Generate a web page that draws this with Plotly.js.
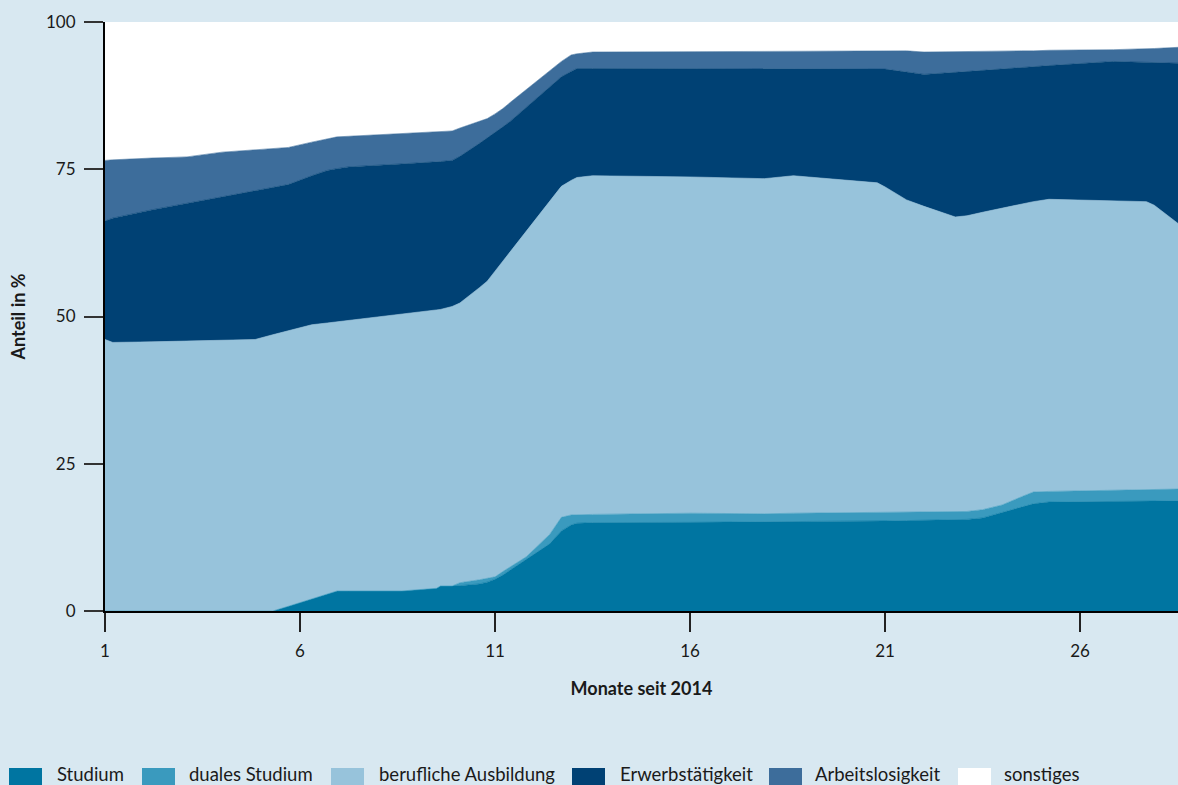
<!DOCTYPE html>
<html>
<head>
<meta charset="utf-8">
<script src="https://cdn.plot.ly/plotly-3.0.1.min.js"></script>
<style>
  html, body { margin: 0; padding: 0; background: #d8e8f1; }
  #chart { width: 1178px; height: 785px; }
</style>
</head>
<body>
<div id="chart"></div>
<script>
// Monate seit 2014 (x positions of the curve vertices)
const monate = [1, 1.2, 2.2, 3.1, 4.0, 4.85, 5.3, 5.7, 6.3, 6.7,
  6.95, 7.25, 8.6, 9.5, 9.6, 9.9, 10.1, 10.6, 10.8, 11.0,
  11.2, 11.4, 11.8, 12.4, 12.7, 12.95, 13.1, 13.5, 16.0, 17.9,
  18.65, 20.8, 21.0, 21.55, 22.0, 22.8, 23.1, 23.5, 24.0, 24.5,
  24.8, 25.2, 26.85, 27.7, 27.9, 28.51];

// Anteile in %
const studium = [0, 0, 0, 0, 0, 0, 0, 0.8, 2.0, 2.9,
  3.4, 3.4, 3.4, 3.85, 4.25, 4.25, 4.3, 4.6, 4.9, 5.4,
  6.1, 7.0, 8.7, 11.4, 13.6, 14.6, 14.9, 15.0, 15.05, 15.1,
  15.2, 15.3, 15.3, 15.35, 15.4, 15.5, 15.55, 15.8, 16.7, 17.7,
  18.2, 18.5, 18.6, 18.65, 18.7, 18.7];
const dualesStudium = [0, 0, 0, 0, 0, 0, 0, 0, 0, 0,
  0, 0, 0, 0, 0, 0, 0.5, 0.7, 0.6, 0.4,
  0.6, 0.5, 0.5, 1.6, 2.3, 1.7, 1.4, 1.4, 1.55, 1.4,
  1.4, 1.4, 1.4, 1.4, 1.4, 1.35, 1.35, 1.4, 1.3, 1.7,
  2.0, 1.8, 1.9, 1.95, 1.95, 2.0];
const ausbildung = [46.1, 45.6, 45.7, 45.8, 46.0, 46.1, 46.9, 46.8, 46.6, 46.0,
  45.7, 46.0, 47.0, 47.25, 46.95, 47.45, 47.5, 49.6, 50.5, 51.9,
  52.7, 53.6, 55.3, 56.7, 56.2, 56.8, 57.3, 57.5, 57.1, 56.9,
  57.3, 56.0, 55.3, 53.05, 51.9, 50.05, 50.2, 50.5, 50.4, 49.7,
  49.3, 49.6, 49.2, 48.9, 48.25, 45.1];
const erwerb = [20.1, 21.1, 22.4, 23.4, 24.3, 25.3, 25.0, 24.8, 25.3, 25.9,
  26.0, 26.0, 25.5, 25.1, 25.1, 24.8, 24.9, 24.5, 24.3, 23.6,
  22.8, 22.1, 21.0, 19.3, 18.6, 18.5, 18.5, 18.2, 18.4, 18.7,
  18.2, 19.4, 20.0, 21.7, 22.4, 24.55, 24.5, 24.1, 23.6, 23.1,
  22.9, 22.7, 23.6, 23.6, 24.2, 27.2];
const arbeitslos = [10.3, 9.9, 8.8, 7.9, 7.6, 6.9, 6.6, 6.3, 5.7, 5.4,
  5.4, 5.2, 5.1, 5.1, 5.1, 5.0, 4.8, 3.8, 3.3, 3.1,
  3.1, 3.2, 3.0, 2.7, 2.6, 2.8, 2.5, 2.8, 2.9, 2.9,
  2.9, 3.0, 3.1, 3.6, 3.8, 3.55, 3.4, 3.2, 3.1, 2.9,
  2.7, 2.6, 2.0, 2.3, 2.4, 2.7];
const sonstiges = [23.5, 23.4, 23.1, 22.9, 22.1, 21.7, 21.5, 21.3, 20.4, 19.8,
  19.5, 19.4, 19.0, 18.7, 18.6, 18.5, 18.0, 16.8, 16.4, 15.6,
  14.7, 13.6, 11.5, 8.3, 6.7, 5.6, 5.4, 5.1, 5.0, 5.0,
  5.0, 4.9, 4.9, 4.9, 5.1, 5.0, 5.0, 5.0, 4.9, 4.9,
  4.9, 4.8, 4.7, 4.6, 4.5, 4.3];

const serienNamen = ["Studium", "duales Studium", "berufliche Ausbildung", "Erwerbstätigkeit", "Arbeitslosigkeit", "sonstiges"];
const serienWerte = [studium, dualesStudium, ausbildung, erwerb, arbeitslos, sonstiges];
const farben = ["#0075a1", "#3a9abe", "#97c3db", "#004174", "#3d6d9b", "#ffffff"];

const xTicks = [1, 6, 11, 16, 21, 26];
const yTicks = [0, 25, 50, 75, 100];

const FONT = "Lato, 'Open Sans', sans-serif";
const traces = serienNamen.map((name, i) => ({
  type: "scatter",
  mode: "lines",
  name: name,
  x: monate,
  y: serienWerte[i],
  stackgroup: "one",
  fillcolor: farben[i],
  line: { width: 0.6, color: farben[i] },
  showlegend: false,
  hoverinfo: "x+y+name"
}));

// custom legend (square swatches + text), pixel layout converted to paper coordinates
const L = 105, W = 1073, T = 22, H = 589;
const px = v => (v - L) / W;
const py = v => (T + H - v) / H;
const swatchX = [9, 142, 331, 572, 769, 958];
const textX = [55, 187, 377, 618, 813, 1002];
const shapes = [];
const annotations = [];
serienNamen.forEach((name, i) => {
  shapes.push({
    type: "rect", xref: "paper", yref: "paper",
    x0: px(swatchX[i]), x1: px(swatchX[i] + 33),
    y0: py(768), y1: py(800),
    fillcolor: farben[i], line: { width: 0 }, layer: "above"
  });
  annotations.push({
    xref: "paper", yref: "paper",
    x: px(textX[i]), y: py(774),
    xanchor: "left", yanchor: "middle",
    text: name, showarrow: false,
    font: { family: FONT, size: 18.5, color: "#1a1a1a" }
  });
});

const layout = {
  width: 1178, height: 785,
  paper_bgcolor: "#d8e8f1",
  plot_bgcolor: "#ffffff",
  margin: { l: L, r: 0, t: T, b: 785 - T - H },
  font: { family: FONT, size: 18, color: "#1a1a1a" },
  showlegend: false,
  xaxis: {
    range: [1, 28.51],
    tickvals: xTicks,
    ticktext: xTicks.map(String),
    ticks: "outside", ticklen: 19, tickwidth: 2, tickcolor: "#222",
    showline: true, linecolor: "#000", linewidth: 2,
    showgrid: false, zeroline: false,
    tickfont: { family: FONT, size: 17, color: "#1a1a1a" },
    ticklabelstandoff: 5,
    title: { text: "<b>Monate seit 2014</b>", font: { family: FONT, size: 18, color: "#1a1a1a" }, standoff: 22 }
  },
  yaxis: {
    range: [0, 100],
    tickvals: yTicks,
    ticktext: yTicks.map(String),
    ticks: "outside", ticklen: 19, tickwidth: 2, tickcolor: "#333",
    showline: true, linecolor: "#000", linewidth: 2,
    showgrid: false, zeroline: false,
    tickfont: { family: FONT, size: 17, color: "#1a1a1a" },
    ticklabelstandoff: 5,
    title: { text: "<b>Anteil in %</b>", font: { family: FONT, size: 18, color: "#1a1a1a" }, standoff: 16 }
  },
  shapes: shapes,
  annotations: annotations
};

Plotly.newPlot("chart", traces, layout, { staticPlot: true, displayModeBar: false });
</script>
</body>
</html>
